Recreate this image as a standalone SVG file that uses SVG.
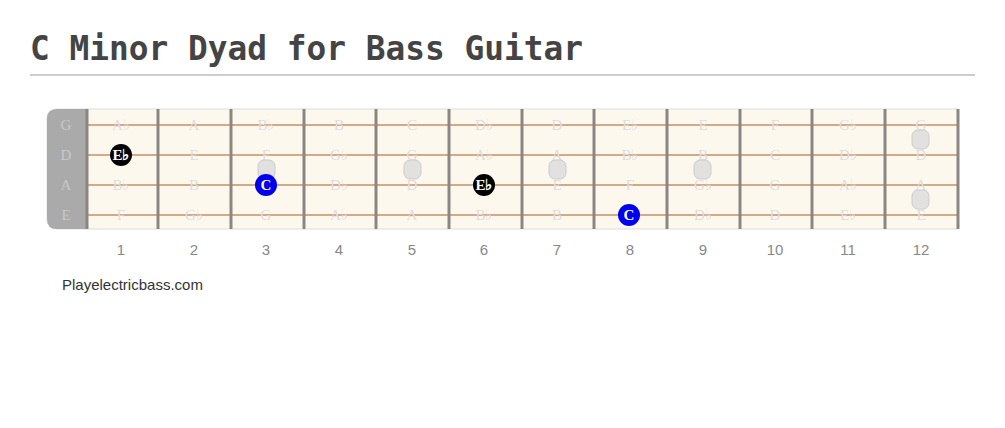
<svg xmlns="http://www.w3.org/2000/svg" width="1005" height="428" viewBox="0 0 1005 428">
<style>
.title{font-family:"DejaVu Sans Mono",monospace;font-weight:bold;font-size:32.8px;fill:#444}
.nl{font-family:"Liberation Serif",serif;font-size:15px;fill:#ddd;text-anchor:middle}
.sl{font-family:"Liberation Serif",serif;font-size:15px;fill:#c8c8c8;text-anchor:middle}
.fn{font-family:"Liberation Sans",sans-serif;font-size:15px;fill:#888;text-anchor:middle}
.fret{stroke:#8a8782;stroke-width:3}
.str{stroke:#d2aa88;stroke-width:2}
.dot{fill:#e2e1df;stroke:#ccc;stroke-width:1}
.nt{font-family:"Liberation Serif",serif;font-weight:bold;font-size:15px;fill:#fff;text-anchor:middle}
</style>
<rect width="1005" height="428" fill="#fff"/>
<text class="title" x="30" y="60">C Minor Dyad for Bass Guitar</text>
<line x1="30" y1="75" x2="975" y2="75" stroke="#ccc" stroke-width="2"/>
<g id="board">
<path d="M57 109 H958 V229 H57 Q47 229 47 219 V119 Q47 109 57 109 Z" fill="#fdf8ee" stroke="#ddd" stroke-width="1"/>
<path d="M57 109 H86 V229 H57 Q47 229 47 219 V119 Q47 109 57 109 Z" fill="#aaa"/>
<g id="strings">
<line class="str" x1="86" y1="125" x2="958" y2="125"/>
<line class="str" x1="86" y1="155" x2="958" y2="155"/>
<line class="str" x1="86" y1="185" x2="958" y2="185"/>
<line class="str" x1="86" y1="215" x2="958" y2="215"/>
</g>
<g id="frets">
<line class="fret" x1="87" y1="109" x2="87" y2="229"/>
<line class="fret" x1="158" y1="109" x2="158" y2="229"/>
<line class="fret" x1="231" y1="109" x2="231" y2="229"/>
<line class="fret" x1="304" y1="109" x2="304" y2="229"/>
<line class="fret" x1="376" y1="109" x2="376" y2="229"/>
<line class="fret" x1="449" y1="109" x2="449" y2="229"/>
<line class="fret" x1="522" y1="109" x2="522" y2="229"/>
<line class="fret" x1="594" y1="109" x2="594" y2="229"/>
<line class="fret" x1="667" y1="109" x2="667" y2="229"/>
<line class="fret" x1="740" y1="109" x2="740" y2="229"/>
<line class="fret" x1="812" y1="109" x2="812" y2="229"/>
<line class="fret" x1="885" y1="109" x2="885" y2="229"/>
<line class="fret" x1="958" y1="109" x2="958" y2="229" stroke-width="2"/>
</g>
<g id="string-names">
<text class="sl" x="66" y="130">G</text>
<text class="sl" x="66" y="160">D</text>
<text class="sl" x="66" y="190">A</text>
<text class="sl" x="66" y="220">E</text>
</g>
<g id="note-names">
<text class="nl" x="121" y="130">A♭</text><text class="nl" x="194" y="130">A</text><text class="nl" x="266" y="130">B♭</text><text class="nl" x="339" y="130">B</text><text class="nl" x="412" y="130">C</text><text class="nl" x="484" y="130">D♭</text><text class="nl" x="557" y="130">D</text><text class="nl" x="630" y="130">E♭</text><text class="nl" x="703" y="130">E</text><text class="nl" x="775" y="130">F</text><text class="nl" x="848" y="130">G♭</text><text class="nl" x="921" y="130">G</text>
<text class="nl" x="121" y="160">E♭</text><text class="nl" x="194" y="160">E</text><text class="nl" x="266" y="160">F</text><text class="nl" x="339" y="160">G♭</text><text class="nl" x="412" y="160">G</text><text class="nl" x="484" y="160">A♭</text><text class="nl" x="557" y="160">A</text><text class="nl" x="630" y="160">B♭</text><text class="nl" x="703" y="160">B</text><text class="nl" x="775" y="160">C</text><text class="nl" x="848" y="160">D♭</text><text class="nl" x="921" y="160">D</text>
<text class="nl" x="121" y="190">B♭</text><text class="nl" x="194" y="190">B</text><text class="nl" x="266" y="190">C</text><text class="nl" x="339" y="190">D♭</text><text class="nl" x="412" y="190">D</text><text class="nl" x="484" y="190">E♭</text><text class="nl" x="557" y="190">E</text><text class="nl" x="630" y="190">F</text><text class="nl" x="703" y="190">G♭</text><text class="nl" x="775" y="190">G</text><text class="nl" x="848" y="190">A♭</text><text class="nl" x="921" y="190">A</text>
<text class="nl" x="121" y="220">F</text><text class="nl" x="194" y="220">G♭</text><text class="nl" x="266" y="220">G</text><text class="nl" x="339" y="220">A♭</text><text class="nl" x="412" y="220">A</text><text class="nl" x="484" y="220">B♭</text><text class="nl" x="557" y="220">B</text><text class="nl" x="630" y="220">C</text><text class="nl" x="703" y="220">D♭</text><text class="nl" x="775" y="220">D</text><text class="nl" x="848" y="220">E♭</text><text class="nl" x="921" y="220">E</text>
</g>
<g id="inlays">
<rect class="dot" x="258" y="160" width="17" height="19" rx="6"/>
<rect class="dot" x="404" y="160" width="17" height="19" rx="6"/>
<rect class="dot" x="549" y="160" width="17" height="19" rx="6"/>
<rect class="dot" x="694" y="160" width="17" height="19" rx="6"/>
<rect class="dot" x="912" y="130" width="17" height="19" rx="6"/>
<rect class="dot" x="912" y="190" width="17" height="19" rx="6"/>
</g>
</g>
<g id="fret-numbers">
<text class="fn" x="121" y="255">1</text><text class="fn" x="194" y="255">2</text><text class="fn" x="266" y="255">3</text><text class="fn" x="339" y="255">4</text><text class="fn" x="412" y="255">5</text><text class="fn" x="484" y="255">6</text><text class="fn" x="557" y="255">7</text><text class="fn" x="630" y="255">8</text><text class="fn" x="703" y="255">9</text><text class="fn" x="775" y="255">10</text><text class="fn" x="848" y="255">11</text><text class="fn" x="921" y="255">12</text>
</g>
<g id="note-eb1">
<circle cx="121" cy="155" r="11" fill="#000"/>
<text class="nt" x="121" y="160">E♭</text>
</g>
<g id="note-c3">
<circle cx="266" cy="185" r="11" fill="#0000ee"/>
<text class="nt" x="266" y="190">C</text>
</g>
<g id="note-eb6">
<circle cx="484" cy="185" r="11" fill="#000"/>
<text class="nt" x="484" y="190">E♭</text>
</g>
<g id="note-c8">
<circle cx="629" cy="215" r="11" fill="#0000ee"/>
<text class="nt" x="629" y="220">C</text>
</g>
<text x="62" y="290" font-family="Liberation Sans, sans-serif" font-size="15" fill="#333">Playelectricbass.com</text>
</svg>
